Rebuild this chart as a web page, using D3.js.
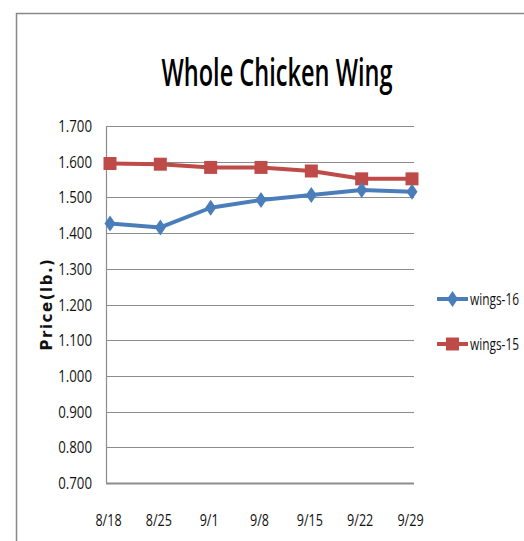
<!DOCTYPE html>
<html>
<head>
<meta charset="utf-8">
<script src="https://d3js.org/d3.v7.min.js"></script>
<style>
	body { margin: 0; background: #fff; }
	text { font-family: "Open Sans", sans-serif; }
</style>
</head>
<body>
<script>
	var width = 524, height = 541;
	var dates = ["8/18","8/25","9/1","9/8","9/15","9/22","9/29"];
	var wings16 = [1.427,1.416,1.471,1.493,1.507,1.521,1.516];
	var wings15 = [1.595,1.593,1.584,1.584,1.574,1.552,1.552];
	var yTicks = [0.7,0.8,0.9,1.0,1.1,1.2,1.3,1.4,1.5,1.6,1.7];
	var seriesNames = ["wings-16","wings-15"];
	var colors = ["#4a7ebb","#be4b48"];

	var svg = d3.select("body").append("svg")
		.attr("width", width).attr("height", height);

	// condensed text: no narrow font here, so squeeze it
	function narrow(x0, y0, sx) {
		return "translate(" + x0 + "," + y0 + ") scale(" + sx + ",1)";
	}

	// outer chart frame
	svg.append("path")
		.attr("d", "M16.5," + height + "V13.5H" + width)
		.attr("fill", "none").attr("stroke", "#888").attr("stroke-width", 1.5);

	var plotL = 106, plotR = 414, plotT = 126, plotB = 483;

	var x = d3.scalePoint().domain(dates).range([110, 412]);
	var y = d3.scaleLinear().domain([0.7, 1.7]).range([plotB, plotT]);

	// gridlines
	svg.append("g").selectAll("line").data(yTicks).enter().append("line")
		.attr("x1", plotL).attr("x2", plotR)
		.attr("y1", function(d){ return Math.round(y(d)) + 0.5; })
		.attr("y2", function(d){ return Math.round(y(d)) + 0.5; })
		.attr("stroke", "#8c8c8c")
		.attr("stroke-width", function(d){ return d == 0.7 ? 2 : 1.2; });

	// left axis line
	svg.append("line")
		.attr("x1", plotL + 0.5).attr("x2", plotL + 0.5)
		.attr("y1", plotT).attr("y2", plotB)
		.attr("stroke", "#8c8c8c").attr("stroke-width", 1.2);

	// y tick labels
	svg.append("g").selectAll("text").data(yTicks).enter().append("text")
		.attr("transform", function(d){ return narrow(92, y(d) + 6, 0.78); })
		.attr("text-anchor", "end")
		.attr("font-size", 17).attr("fill", "#111")
		.text(function(d){ return d3.format(".3f")(d); });

	// x tick labels
	svg.append("g").selectAll("text").data(dates).enter().append("text")
		.attr("transform", function(d){ return narrow(x(d) - 1.5, 526, 0.74); })
		.attr("text-anchor", "middle")
		.attr("font-size", 17).attr("fill", "#111")
		.text(function(d){ return d; });

	// title
	svg.append("text")
		.attr("transform", narrow(277, 86, 0.62))
		.attr("text-anchor", "middle")
		.attr("font-size", 38).attr("font-weight", 600).attr("fill", "#000")
		.text("Whole Chicken Wing");

	// y axis title
	svg.append("text")
		.attr("transform", "translate(52,304) rotate(-90)")
		.attr("text-anchor", "middle")
		.attr("font-weight", "bold")
		.attr("font-size", 15).attr("fill", "#111")
		.attr("letter-spacing", 1.5)
		.style("font-family", "'DejaVu Sans', sans-serif")
		.text("Price(lb.)");

	var line = d3.line()
		.x(function(d, i){ return x(dates[i]); })
		.y(function(d){ return y(d); });

	var diamond = "M0,-8L5.5,0L0,8L-5.5,0Z";
	var square = "M-6.5,-6.5H6.5V6.5H-6.5Z";

	function drawSeries(vals, color, shape) {
		svg.append("path").datum(vals)
			.attr("d", line)
			.attr("fill", "none").attr("stroke", color)
			.attr("stroke-width", 4).attr("stroke-linejoin", "round");
		svg.append("g").selectAll("path").data(vals).enter().append("path")
			.attr("transform", function(d, i){ return "translate(" + x(dates[i]) + "," + y(d) + ")"; })
			.attr("d", shape).attr("fill", color);
	}
	drawSeries(wings15, colors[1], square);
	drawSeries(wings16, colors[0], diamond);

	// legend
	var legY = [299, 344];
	var shapes = [diamond, square];
	seriesNames.forEach(function(name, i){
		var g = svg.append("g").attr("transform", "translate(437," + legY[i] + ")");
		g.append("line").attr("x1", 0).attr("x2", 31)
			.attr("stroke", colors[i]).attr("stroke-width", 4);
		g.append("path").attr("transform", "translate(15.5,0)")
			.attr("d", shapes[i]).attr("fill", colors[i]);
		g.append("text").attr("transform", narrow(33, 6, 0.7))
			.attr("font-size", 17).attr("fill", "#111")
			.text(name);
	});
</script>
</body>
</html>
